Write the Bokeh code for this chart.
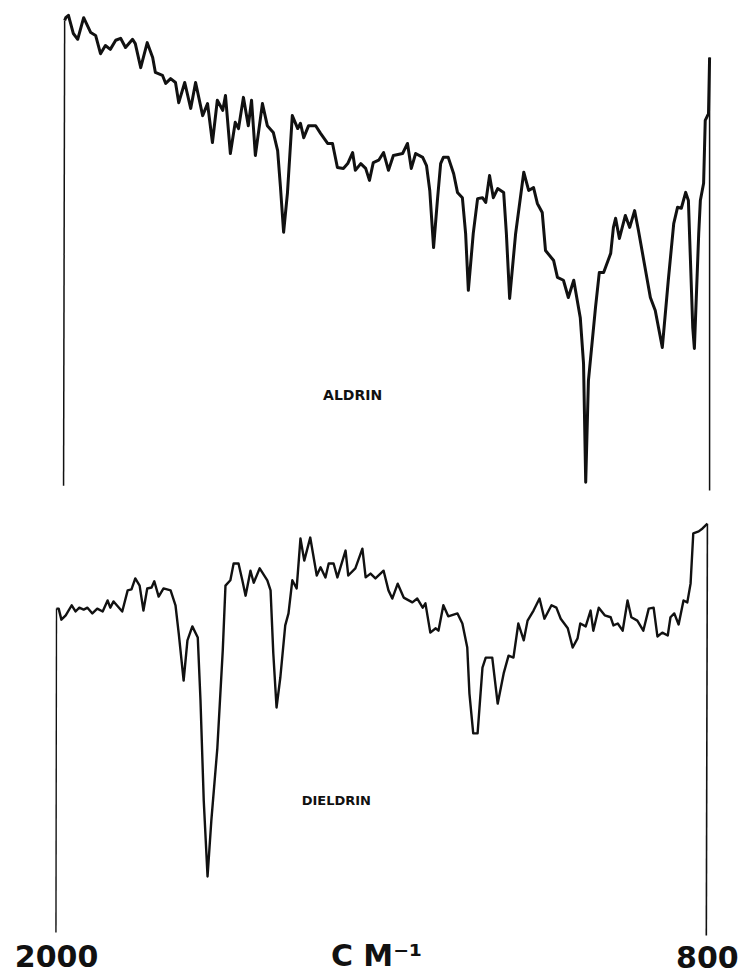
from bokeh.plotting import figure
from bokeh.models import Range1d
from bokeh.core.properties import value
from bokeh.embed import file_html
from bokeh.resources import INLINE

# ---- data: wavenumber (cm-1) and transmittance (%) ----
aldrin_wn = [1987, 1985, 1983, 1978, 1969, 1961, 1950, 1937, 1928, 1919,
             1910, 1901, 1891, 1882, 1873, 1860, 1855, 1845, 1833, 1823,
             1818, 1805, 1799, 1790, 1781, 1775, 1764, 1753, 1744, 1731,
             1722, 1713, 1704, 1694, 1689, 1680, 1671, 1665, 1656, 1647,
             1641, 1634, 1621, 1612, 1601, 1593, 1588, 1582, 1575, 1566,
             1556, 1551, 1545, 1536, 1523, 1514, 1501, 1492, 1483, 1472,
             1464, 1455, 1450, 1440, 1431, 1424, 1417, 1407, 1398, 1389,
             1380, 1363, 1354, 1347, 1339, 1326, 1319, 1313, 1306, 1299,
             1293, 1288, 1279, 1269, 1262, 1253, 1247, 1242, 1233, 1225,
             1216, 1210, 1203, 1196, 1188, 1177, 1172, 1166, 1155, 1140,
             1131, 1122, 1115, 1106, 1100, 1085, 1078, 1067, 1058, 1048,
             1036, 1030, 1026, 1021, 1008, 1001, 993, 980, 975, 971,
             964, 953, 945, 936, 929, 920, 907, 898, 885, 874,
             864, 857, 850, 842, 837, 829, 826, 818, 815, 809,
             806, 800, 798, 798]
aldrin_t = [1.0, 97.9, 98.5, 99.0, 95.2, 94.0, 98.5, 95.4, 94.8, 91.0,
            92.7, 91.9, 93.8, 94.2, 92.3, 94.0, 93.1, 88.1, 93.3, 90.2,
            87.1, 86.5, 84.8, 85.8, 85.0, 80.8, 85.0, 79.6, 85.0, 78.1,
            80.6, 72.5, 81.3, 79.2, 82.3, 70.2, 76.7, 75.4, 81.9, 76.0,
            81.3, 69.8, 80.6, 76.0, 74.6, 70.8, 63.5, 53.8, 61.9, 78.1,
            75.4, 76.5, 73.5, 76.0, 76.0, 74.4, 72.3, 72.3, 67.3, 67.1,
            68.1, 70.4, 66.7, 68.1, 67.1, 64.6, 68.3, 68.8, 70.4, 66.7,
            69.8, 70.2, 72.3, 67.1, 70.2, 69.4, 67.7, 62.5, 50.6, 60.4,
            68.1, 69.4, 69.4, 66.0, 62.1, 61.0, 53.5, 41.7, 53.5, 60.8,
            61.0, 60.0, 65.6, 61.0, 62.9, 62.1, 53.5, 40.0, 53.5, 66.3,
            62.5, 63.1, 59.8, 57.9, 50.0, 47.9, 44.4, 43.8, 40.2, 43.8,
            36.0, 26.5, 1.7, 22.9, 38.1, 45.4, 45.4, 49.4, 54.8, 56.7,
            52.5, 57.3, 54.8, 58.3, 54.2, 48.5, 40.2, 37.5, 29.8, 43.8,
            55.6, 59.0, 58.8, 62.1, 60.4, 34.0, 29.6, 53.5, 60.4, 64.0,
            77.1, 78.5, 90.2, 0.0]

dieldrin_wn = [2001, 2000, 1996, 1991, 1983, 1972, 1965, 1958, 1950, 1943,
               1934, 1925, 1915, 1906, 1901, 1895, 1879, 1869, 1862, 1855,
               1847, 1840, 1833, 1825, 1820, 1812, 1803, 1790, 1781, 1775,
               1766, 1759, 1750, 1740, 1735, 1729, 1722, 1715, 1704, 1694,
               1689, 1680, 1674, 1665, 1658, 1652, 1643, 1637, 1626, 1612,
               1606, 1601, 1595, 1588, 1579, 1573, 1566, 1558, 1551, 1544,
               1533, 1521, 1514, 1505, 1499, 1490, 1483, 1468, 1463, 1450,
               1437, 1431, 1422, 1413, 1398, 1389, 1382, 1372, 1361, 1345,
               1336, 1326, 1321, 1312, 1302, 1297, 1288, 1279, 1262, 1253,
               1244, 1240, 1233, 1225, 1216, 1210, 1198, 1188, 1177, 1168,
               1159, 1150, 1140, 1133, 1122, 1111, 1102, 1089, 1080, 1072,
               1059, 1050, 1041, 1036, 1026, 1017, 1012, 1002, 991, 980,
               975, 967, 958, 949, 942, 931, 920, 910, 901, 894,
               885, 875, 870, 863, 855, 846, 839, 833, 828, 818,
               811, 802, 804]
dieldrin_t = [0.6, 68.1, 68.1, 65.8, 66.7, 68.8, 67.5, 68.3, 67.9, 68.3,
              67.1, 68.1, 67.5, 69.8, 68.3, 69.6, 67.5, 71.9, 72.1, 74.4,
              72.9, 67.7, 72.3, 72.5, 73.8, 70.6, 72.3, 71.9, 68.8, 62.9,
              53.1, 61.5, 64.4, 62.1, 49.0, 28.1, 12.3, 24.0, 39.0, 59.4,
              72.9, 74.0, 77.5, 77.5, 74.0, 70.8, 76.0, 73.5, 76.5, 74.0,
              71.9, 58.8, 47.5, 53.8, 64.6, 67.1, 74.0, 72.3, 82.7, 78.1,
              82.9, 75.0, 76.7, 74.6, 77.5, 77.5, 74.6, 80.2, 75.0, 76.5,
              80.6, 74.6, 75.4, 74.4, 76.0, 71.9, 70.2, 73.3, 70.4, 69.4,
              70.2, 68.3, 69.2, 63.1, 64.0, 63.5, 68.8, 66.5, 67.1, 65.0,
              60.0, 50.4, 42.1, 42.1, 55.8, 57.9, 57.9, 48.3, 54.6, 58.3,
              57.9, 65.0, 61.5, 65.6, 67.7, 70.2, 66.0, 68.8, 68.3, 66.0,
              64.0, 60.0, 61.9, 65.0, 64.4, 67.7, 63.5, 68.3, 66.7, 66.3,
              64.6, 65.0, 63.5, 69.8, 66.3, 65.6, 63.5, 68.1, 68.3, 62.3,
              63.1, 62.5, 66.3, 67.1, 64.8, 69.8, 69.4, 73.3, 83.8, 84.2,
              84.8, 85.8, 0.0]

compound_names = ["ALDRIN", "DIELDRIN"]
scale_labels = ["2000", "C M\u207b\u00b9", "800"]
scale_label_wn = [2000, 1411, 802]

# ---- layout constants ----
TOP_OFFSET = 92.71          # vertical offset of the upper (aldrin) trace
INK = "#111111"

p = figure(width=746, height=975,
           x_range=Range1d(2103.07, 730.06),
           y_range=Range1d(-8.333, 194.79),
           output_backend="svg", toolbar_location=None,
           x_axis_location=None, y_axis_location=None,
           min_border=0, background_fill_color="white",
           border_fill_color="white")
p.grid.visible = False
p.outline_line_color = None

ald_y = [t + TOP_OFFSET for t in aldrin_t]

# aldrin: pen strokes (thin verticals) + thick trace
p.line(aldrin_wn[:2], ald_y[:2], line_color=INK, line_width=1.5)
p.line(aldrin_wn[1:-1], ald_y[1:-1], line_color=INK, line_width=3.0,
       line_join="round")
p.line(aldrin_wn[-2:], ald_y[-2:], line_color=INK, line_width=1.5)

# dieldrin
p.line(dieldrin_wn[:2], dieldrin_t[:2], line_color=INK, line_width=1.4)
p.line(dieldrin_wn[1:-1], dieldrin_t[1:-1], line_color=INK, line_width=2.4,
       line_join="round")
p.line(dieldrin_wn[-2:], dieldrin_t[-2:], line_color=INK, line_width=1.6)

# compound names
p.text(x=[1455], y=[19.8 + TOP_OFFSET], text=[compound_names[0]],
       text_font=value("DejaVu Sans"), text_font_style="bold",
       text_font_size="14px", text_align="center", text_baseline="middle",
       text_color=INK)
p.text(x=[1485], y=[28.1], text=[compound_names[1]],
       text_font=value("DejaVu Sans"), text_font_style="bold",
       text_font_size="13px", text_align="center", text_baseline="middle",
       text_color=INK)

# scale labels along the bottom
p.text(x=scale_label_wn, y=[-4.2, -4.2, -4.4], text=scale_labels,
       text_font=value("DejaVu Sans"), text_font_style="bold",
       text_font_size="30px", text_align="center",
       text_baseline="middle", text_color=INK)

open("out.html", "w").write(file_html(p, INLINE))
